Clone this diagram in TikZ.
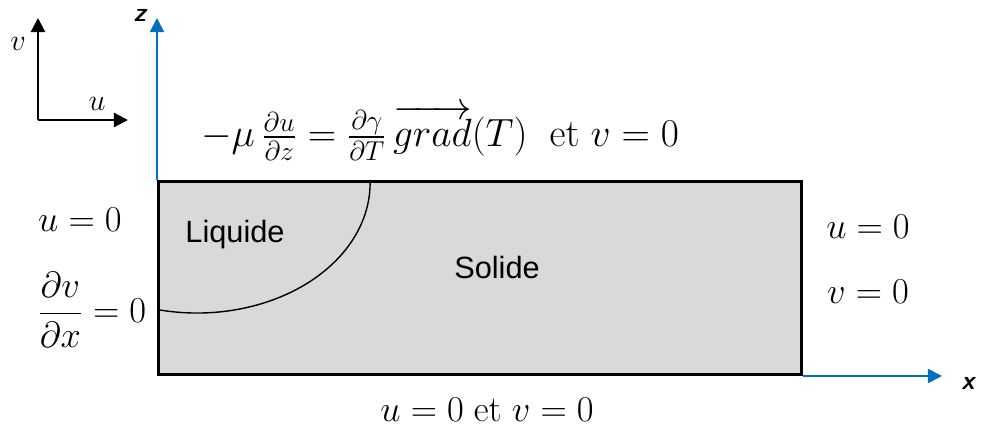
\documentclass[tikz,border=0pt]{standalone}
\usepackage{amsmath}
\usepackage[no-math]{fontspec}
\setmainfont{Liberation Sans}
\usepackage{tikz}
\usetikzlibrary{arrows.meta}
\definecolor{axisblue}{HTML}{0070C0}
\definecolor{solidgray}{HTML}{D9D9D9}
\tikzset{
  plate/.style={draw=black, fill=solidgray, line width=1.7pt, inner sep=0pt},
  axisline/.style={line width=1.1pt, draw=axisblue, -{Triangle[length=8pt, width=8pt]}},
  velline/.style={line width=1.3pt, draw=black, -{Triangle[length=8pt, width=8pt]}},
  front/.style={line width=0.8pt, draw=black},
  axislabel/.style={font=\sffamily\bfseries\itshape\fontsize{15}{18}\selectfont, inner sep=0pt},
  bc/.style={font=\fontsize{21}{25}\selectfont, inner sep=0pt},
  zone/.style={font=\fontsize{17.5}{21}\selectfont, inner sep=0pt},
}

\begin{document}
\begin{tikzpicture}
\useasboundingbox (0,0) rectangle (19.68,8.6);
% domain
\node[plate, minimum width=12.86cm, minimum height=3.86cm, anchor=south west] (dom) at (3.14,1.08) {};
\draw[front] (dom.west |- 0,2.41) arc[start angle=256.6, end angle=360, x radius=3.46, y radius=2.6];
\node[zone] (liq) at (4.70,3.90) {Liquide};
\node[zone] (sol) at (9.94,3.24) {Solide};
% axes
\coordinate (zend) at (3.14,8.24);
\coordinate (xend) at (18.84,1.08);
\draw[axisline] (dom.north west) -- (zend);
\draw[axisline] (dom.south east) -- (xend);
\node[axislabel] (zlab) at (2.80,8.30) {z};
\node[axislabel] (xlab) at (19.36,0.94) {x};
% velocity frame
\coordinate (vo) at (0.76,6.2);
\coordinate (vend) at (0.76,8.24);
\coordinate (uend) at (2.56,6.2);
\draw[velline] (vo) -- (vend);
\draw[velline] (vo) -- (uend);
\node[bc, font=\fontsize{17}{20}\selectfont] (vlab) at (0.36,7.72) {$v$};
\node[bc, font=\fontsize{17}{20}\selectfont] (ulab) at (1.94,6.52) {$u$};
% boundary conditions
\node[bc, font=\fontsize{21}{25}\selectfont, scale=1.08] (top) at (8.8,5.95) {$-\mu\,\frac{\partial u}{\partial z}=\frac{\partial\gamma}{\partial T}\,\overrightarrow{grad}(T)$\ \ $\mathrm{et}\;v=0$};
\node[bc] (left1) at (1.6,4.2) {$u=0$};
\node[bc] (left2) at (1.84,2.4) {$\dfrac{\partial v}{\partial x}=0$};
\node[bc] (right1) at (17.36,4.06) {$u=0$};
\node[bc] (right2) at (17.36,2.76) {$v=0$};
\node[bc] (bottom) at (9.74,0.40) {$u=0\;\mathrm{et}\;v=0$};
\end{tikzpicture}
\end{document}
